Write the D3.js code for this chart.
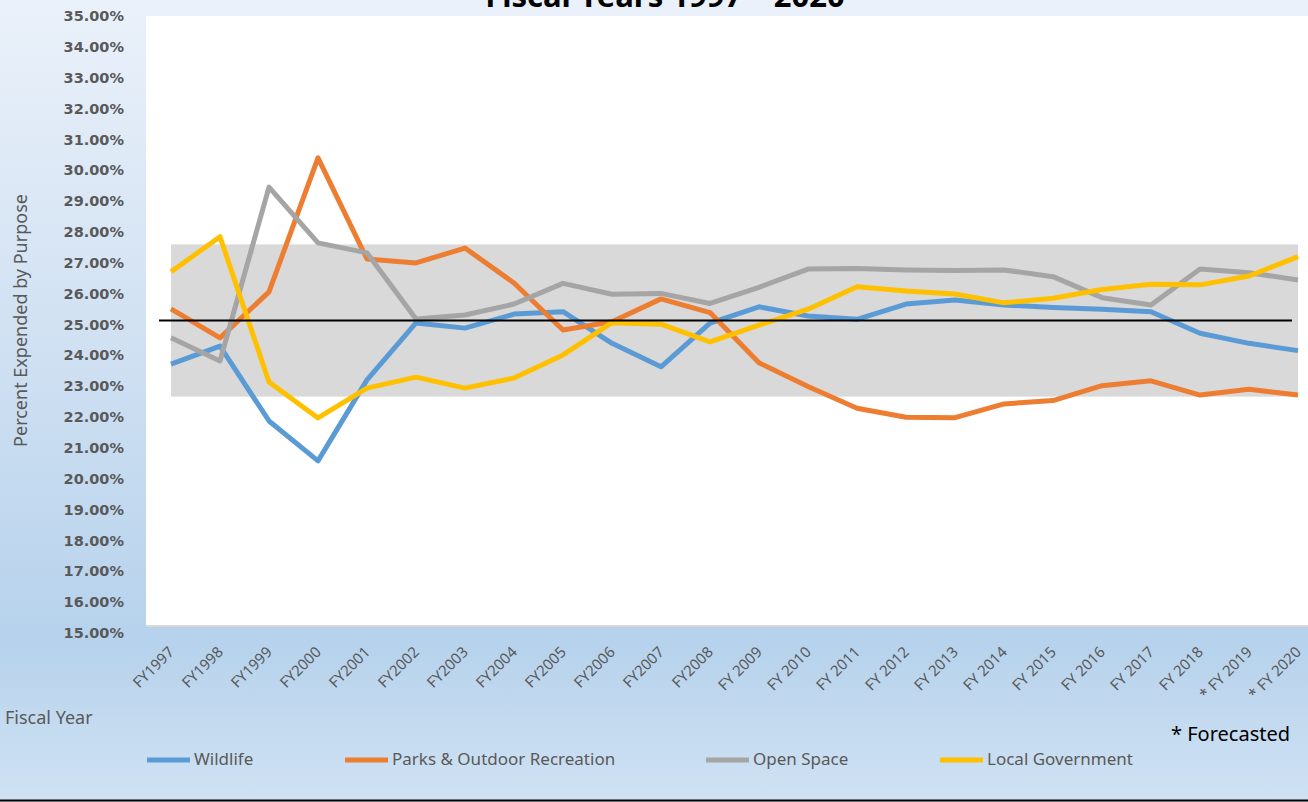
<!DOCTYPE html>
<html>
<head>
<meta charset="utf-8">
<script src="https://cdn.jsdelivr.net/npm/d3@7"></script>
<style>
  html, body { margin: 0; padding: 0; overflow: hidden; }
  body { width: 1308px; height: 802px; }
  text { font-family: "Noto Sans", sans-serif; }
</style>
</head>
<body>
<div id="chart"></div>
<script>
const years = ["FY1997", "FY1998", "FY1999", "FY2000", "FY2001", "FY2002", "FY2003", "FY2004",
  "FY2005", "FY2006", "FY2007", "FY2008", "FY 2009", "FY 2010", "FY 2011", "FY 2012", "FY 2013",
  "FY 2014", "FY 2015", "FY 2016", "FY 2017", "FY 2018", "* FY 2019", "* FY 2020"];

const wildlife = [23.57, 24.16, 21.70, 20.39, 23.05, 24.92, 24.75, 25.21, 25.29, 24.25, 23.48, 24.91,
  25.45, 25.15, 25.04, 25.54, 25.67, 25.51, 25.43, 25.37, 25.29, 24.58, 24.25, 24.01];
const parks = [25.38, 24.43, 25.94, 30.34, 27.02, 26.89, 27.38, 26.23, 24.69, 24.96, 25.71, 25.26,
  23.61, 22.83, 22.12, 21.82, 21.81, 22.26, 22.37, 22.86, 23.02, 22.55, 22.74, 22.55];
const openSpace = [24.43, 23.67, 29.38, 27.55, 27.22, 25.05, 25.18, 25.54, 26.22, 25.86, 25.89, 25.56,
  26.09, 26.69, 26.71, 26.66, 26.64, 26.66, 26.44, 25.75, 25.51, 26.69, 26.57, 26.33];
const localGov = [26.60, 27.75, 22.98, 21.80, 22.78, 23.14, 22.78, 23.11, 23.87, 24.93, 24.88, 24.30,
  24.85, 25.37, 26.11, 25.97, 25.87, 25.58, 25.73, 26.02, 26.19, 26.17, 26.46, 27.10];

const seriesNames = ["Wildlife", "Parks & Outdoor Recreation", "Open Space", "Local Government"];
const seriesColors = ["#5b9bd5", "#ed7d31", "#a5a5a5", "#ffc000"];

const yTicks = [15, 16, 17, 18, 19, 20, 21, 22, 23, 24, 25, 26, 27, 28, 29, 30, 31, 32, 33, 34, 35];
const targetBand = [22.5, 27.5];
const targetLine = 25;

function purposeChart() {
  const W = 1308, H = 802;
  const margin = { top: 16, right: 0, bottom: 177, left: 146 };
  const width = 1176; // 24 categories, the last one runs off the picture
  const height = H - margin.top - margin.bottom;

  const svg = d3.select("#chart")
    .append("svg")
    .attr("width", W)
    .attr("height", H);

  const defs = svg.append("defs");
  const grad = defs.append("linearGradient")
    .attr("id", "bg")
    .attr("x1", 0).attr("y1", 0).attr("x2", 0).attr("y2", 1);
  grad.append("stop").attr("offset", "0%").attr("stop-color", "#eaf1fa");
  grad.append("stop").attr("offset", "45%").attr("stop-color", "#cfe0f2");
  grad.append("stop").attr("offset", "80%").attr("stop-color", "#b6d2ec");
  grad.append("stop").attr("offset", "100%").attr("stop-color", "#d0e2f3");

  svg.append("rect")
    .attr("width", W)
    .attr("height", H)
    .attr("fill", "url(#bg)");

  // bottom border of the chart
  svg.append("line")
    .attr("x1", 0).attr("x2", W)
    .attr("y1", H - 1.5).attr("y2", H - 1.5)
    .attr("stroke", "#000")
    .attr("stroke-width", 2);

  const g = svg.append("g")
    .attr("transform", `translate(${margin.left},${margin.top})`);

  g.append("rect")
    .attr("width", width)
    .attr("height", height)
    .attr("fill", "#fff");

  g.append("line")
    .attr("x1", 0).attr("x2", width)
    .attr("y1", height + 1).attr("y2", height + 1)
    .attr("stroke", "#d9d9d9")
    .attr("stroke-width", 2);

  const x = d3.scalePoint()
    .domain(years)
    .range([0.5, width + 0.5])
    .padding(0.5);

  const y = d3.scaleLinear()
    .domain([15, 35])
    .range([height, 0]);

  // the labels sit a little lower than the gridlines, as in the original
  const yLab = y.copy().range([height + 8, 0]);

  g.append("g")
    .attr("transform", "translate(-19,0)")
    .call(d3.axisLeft(yLab).tickValues(yTicks).tickSize(0).tickFormat(d => d.toFixed(2) + "%"))
    .call(a => a.select(".domain").remove())
    .selectAll("text")
    .attr("fill", "#595959")
    .style("font-family", "'DejaVu Sans', sans-serif")
    .style("font-weight", "bold")
    .style("font-size", "14.5px");

  // shaded band
  g.append("rect")
    .attr("x", x(years[0]))
    .attr("width", x(years[years.length - 1]) - x(years[0]))
    .attr("y", y(targetBand[1]))
    .attr("height", y(targetBand[0]) - y(targetBand[1]))
    .attr("fill", "#d9d9d9");

  const data = [wildlife, parks, openSpace, localGov];

  const line = d3.line()
    .x((d, i) => x(years[i]))
    .y(d => y(d));

  g.selectAll(".series")
    .data(data)
    .join("path")
    .attr("class", "series")
    .attr("d", line)
    .attr("fill", "none")
    .attr("stroke", (d, i) => seriesColors[i])
    .attr("stroke-width", 5)
    .attr("stroke-linejoin", "round");

  g.append("line")
    .attr("x1", x(years[0]) - 12)
    .attr("x2", x(years[years.length - 1]) - 6)
    .attr("y1", y(targetLine))
    .attr("y2", y(targetLine))
    .attr("stroke", "#000")
    .attr("stroke-width", 2);

  // category labels
  g.selectAll(".xlab")
    .data(years)
    .join("text")
    .attr("class", "xlab")
    .attr("transform", d => `translate(${x(d) + 4},${height + 28}) rotate(-45)`)
    .attr("text-anchor", "end")
    .attr("fill", "#595959")
    .style("font-size", "15px")
    .text(d => d);

  svg.append("text")
    .attr("x", 665)
    .attr("y", 7)
    .attr("text-anchor", "middle")
    .style("font-size", "31px")
    .style("font-weight", "bold")
    .attr("fill", "#000")
    .text("Fiscal Years 1997 – 2020");

  svg.append("text")
    .attr("transform", `translate(27,${margin.top + y(25)}) rotate(-90)`)
    .attr("text-anchor", "middle")
    .attr("fill", "#595959")
    .style("font-size", "18px")
    .text("Percent Expended by Purpose");

  svg.append("text")
    .attr("x", 5)
    .attr("y", 724)
    .attr("fill", "#595959")
    .style("font-size", "18px")
    .text("Fiscal Year");

  svg.append("text")
    .attr("x", 1171)
    .attr("y", 741)
    .attr("fill", "#000")
    .style("font-size", "20px")
    .text("* Forecasted");

  // legend
  const legendX = [147, 345, 706, 940];
  const legend = svg.selectAll(".legend")
    .data(seriesNames)
    .join("g")
    .attr("class", "legend")
    .attr("transform", (d, i) => `translate(${legendX[i]},760)`);

  legend.append("line")
    .attr("x1", 0).attr("x2", 43)
    .attr("stroke", (d, i) => seriesColors[i])
    .attr("stroke-width", 5);

  legend.append("text")
    .attr("x", 47)
    .attr("y", 5)
    .attr("fill", "#595959")
    .style("font-size", "17px")
    .text(d => d);
}

purposeChart();
</script>
</body>
</html>
